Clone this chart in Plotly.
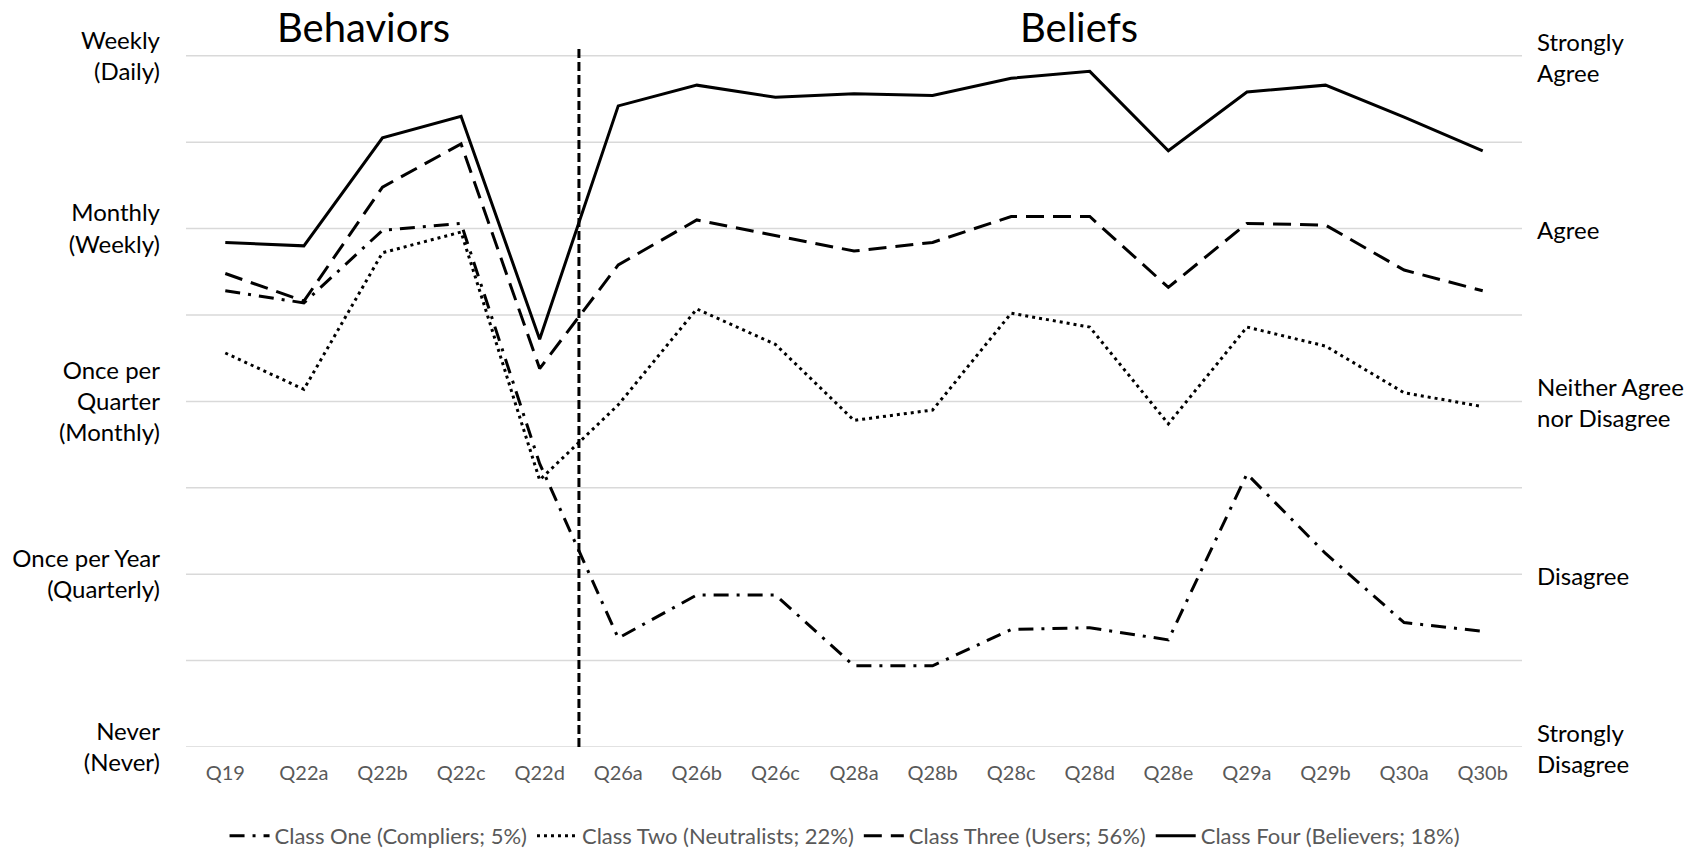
import plotly.graph_objects as go

categories = ["Q19", "Q22a", "Q22b", "Q22c", "Q22d", "Q26a", "Q26b", "Q26c", "Q28a",
              "Q28b", "Q28c", "Q28d", "Q28e", "Q29a", "Q29b", "Q30a", "Q30b"]

class_one = [3.64, 3.57, 3.99, 4.03, 2.64, 1.63, 1.88, 1.88, 1.47, 1.47, 1.68, 1.69, 1.62, 2.58, 2.12, 1.72, 1.67]
class_two = [3.28, 3.07, 3.86, 3.98, 2.545, 2.98, 3.535, 3.33, 2.89, 2.95, 3.51, 3.43, 2.87, 3.43, 3.32, 3.05, 2.97]
class_three = [3.74, 3.58, 4.24, 4.49, 3.19, 3.79, 4.05, 3.96, 3.87, 3.92, 4.07, 4.07, 3.66, 4.03, 4.02, 3.76, 3.64]
class_four = [3.92, 3.90, 4.525, 4.65, 3.36, 4.71, 4.83, 4.76, 4.78, 4.77, 4.87, 4.91, 4.45, 4.79, 4.83, 4.645, 4.45]

series_names = ["Class One (Compliers; 5%)", "Class Two (Neutralists; 22%)",
                "Class Three (Users; 56%)", "Class Four (Believers; 18%)"]

left_tick_values = [1, 2, 3, 4, 5]
left_tick_labels = ["Never<br>(Never)", "Once per Year<br>(Quarterly)",
                    "Once per<br>Quarter<br>(Monthly)", "Monthly<br>(Weekly)", "Weekly<br>(Daily)"]
right_tick_labels = ["Strongly<br>Disagree", "Disagree", "Neither Agree<br>nor Disagree",
                     "Agree", "Strongly<br>Agree"]
grid_values = [1, 1.5, 2, 2.5, 3, 3.5, 4, 4.5, 5]

section_titles = ["Behaviors", "Beliefs"]

FONT = "Lato"
styles = [
    dict(dash="15px,8px,3px,8px"),
    dict(dash="3px,4px"),
    dict(dash="18px,9px"),
    dict(dash="solid"),
]

fig = go.Figure()
for name, vals, st in zip(series_names, [class_one, class_two, class_three, class_four], styles):
    fig.add_trace(go.Scatter(
        x=categories, y=vals, mode="lines", name=name,
        line=dict(color="black", width=3, dash=st["dash"]),
    ))

# vertical separator between behaviors and beliefs
fig.add_shape(type="line", xref="x", yref="y", x0=4.5, x1=4.5, y0=1, y1=5.045,
              line=dict(color="black", width=3, dash="9px,4px"), layer="above")

for v, t in zip(left_tick_values, right_tick_labels):
    fig.add_annotation(xref="paper", yref="y", x=1, y=v, xanchor="left", yanchor="middle",
                       xshift=13, yshift=-1, text=t, showarrow=False, align="left",
                       font=dict(family=FONT, size=24, color="black"))

fig.add_annotation(xref="paper", yref="paper", x=0.1332, y=1.0300, text=section_titles[0],
                   showarrow=False, xanchor="center", yanchor="middle",
                   font=dict(family=FONT, size=40, color="black"))
fig.add_annotation(xref="paper", yref="paper", x=0.6684, y=1.0300, text=section_titles[1],
                   showarrow=False, xanchor="center", yanchor="middle",
                   font=dict(family=FONT, size=40, color="black"))

fig.update_layout(
    width=1684, height=841,
    margin=dict(l=178, r=170, t=40, b=102, autoexpand=False),
    paper_bgcolor="white", plot_bgcolor="white",
    font=dict(family=FONT),
    showlegend=True,
    legend=dict(orientation="h", x=0.4933, y=-0.1273, xanchor="center", yanchor="middle",
                font=dict(family=FONT, size=22, color="#595959"), traceorder="normal",
                itemwidth=40, bgcolor="rgba(0,0,0,0)"),
    xaxis=dict(type="category", showgrid=False, zeroline=False, showline=False,
               tickfont=dict(family=FONT, size=20, color="#595959"), ticks="",
               ticklabelstandoff=12, range=[-0.5, 16.5], automargin=False),
    yaxis=dict(range=[1, 5.045], tickvals=left_tick_values, ticktext=left_tick_labels,
               tickfont=dict(family=FONT, size=24, color="black"), showgrid=False,
               zeroline=False, showline=False, ticks="", ticklabelstandoff=25,
               automargin=False),
)

for g in grid_values:
    fig.add_shape(type="line", xref="paper", yref="y", x0=0, x1=1, y0=g, y1=g,
                  line=dict(color="#d9d9d9", width=1.5), layer="below")

fig.write_html("out.html")
